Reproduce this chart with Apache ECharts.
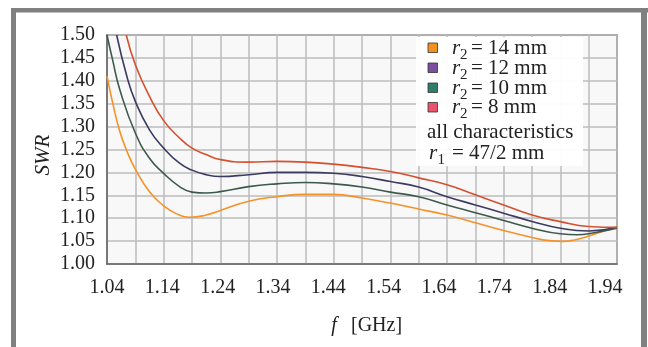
<!DOCTYPE html>
<html>
<head>
<meta charset="utf-8">
<script src="https://cdn.jsdelivr.net/npm/echarts@6/dist/echarts.min.js"></script>
<style>html,body{margin:0;padding:0;background:#fff;}#c{width:648px;height:347px;}</style>
</head>
<body>
<div id="c"></div>
<script>
// frequency origin of the x axis (GHz)
const F0 = 1.04;
const xTickValues = [0,0.1,0.2,0.3,0.4,0.5,0.6,0.7,0.8,0.9];
const xTickLabels = ['1.04','1.14','1.24','1.34','1.44','1.54','1.64','1.74','1.84','1.94'];
const yTickLabels = ['1.00','1.05','1.10','1.15','1.20','1.25','1.30','1.35','1.40','1.45','1.50'];

// r2 = 14 mm
const f14 = [1.04,1.05,1.0625,1.075,1.09,1.115,1.14,1.162,1.186,1.215,1.24,1.29,1.34,1.39,1.44,1.49,1.54,1.59,1.64,1.69,1.74,1.79,1.82,1.845,1.865,1.89,1.917,1.94];
const swr14 = [1.41,1.352,1.29,1.247,1.207,1.158,1.127,1.110,1.102,1.107,1.117,1.137,1.147,1.152,1.152,1.144,1.133,1.12,1.107,1.09,1.073,1.058,1.051,1.0495,1.0525,1.061,1.072,1.08];
// r2 = 12 mm
const f12 = [1.057,1.075,1.09,1.115,1.14,1.168,1.19,1.215,1.24,1.29,1.34,1.39,1.44,1.49,1.54,1.59,1.64,1.69,1.74,1.79,1.84,1.89,1.94];
const swr12 = [1.50,1.41,1.355,1.293,1.253,1.220,1.205,1.195,1.191,1.195,1.200,1.200,1.198,1.191,1.180,1.168,1.147,1.129,1.111,1.093,1.078,1.072,1.080];
// r2 = 10 mm
const f10 = [1.04,1.05,1.0625,1.09,1.115,1.14,1.168,1.19,1.215,1.24,1.29,1.34,1.39,1.44,1.49,1.54,1.59,1.64,1.69,1.74,1.79,1.84,1.87,1.89,1.94];
const swr10 = [1.50,1.445,1.381,1.286,1.231,1.198,1.169,1.157,1.155,1.158,1.169,1.175,1.178,1.175,1.168,1.157,1.147,1.129,1.112,1.095,1.078,1.066,1.064,1.066,1.078];
// r2 = 8 mm
const f8 = [1.074,1.09,1.115,1.14,1.168,1.19,1.215,1.24,1.29,1.34,1.39,1.44,1.49,1.54,1.59,1.64,1.69,1.74,1.79,1.84,1.89,1.94];
const swr8 = [1.50,1.435,1.366,1.313,1.275,1.253,1.239,1.228,1.2225,1.224,1.2225,1.218,1.211,1.202,1.188,1.173,1.151,1.129,1.107,1.0925,1.082,1.080];

const seriesDefs = [
  {name:'r2 = 14 mm', f:f14, v:swr14, color:'#f5922a'},
  {name:'r2 = 12 mm', f:f12, v:swr12, color:'#3b3a62'},
  {name:'r2 = 10 mm', f:f10, v:swr10, color:'#3c5a4c'},
  {name:'r2 = 8 mm',  f:f8,  v:swr8,  color:'#d5502f'}
];

const serif = '"Liberation Serif","DejaVu Serif",serif';
const chart = echarts.init(document.getElementById('c'), null, {renderer:'canvas'});

const legendRows = [
  {sub:'2', rest:'= 14 mm', key:'#f39020'},
  {sub:'2', rest:'= 12 mm', key:'#7b4f9e'},
  {sub:'2', rest:'= 10 mm', key:'#2e7c6a'},
  {sub:'2', rest:'= 8 mm',  key:'#e9546b'}
];

const graphics = [
  {type:'rect', shape:{x:11,y:8,width:637,height:4.5}, style:{fill:'#808080'}, z:100},
  {type:'rect', shape:{x:11,y:8,width:5,height:339}, style:{fill:'#808080'}, z:100},
  {type:'rect', shape:{x:641,y:8,width:6,height:339}, style:{fill:'#808080'}, z:100},
  {type:'rect', shape:{x:416,y:37,width:167,height:129}, style:{fill:'rgba(255,255,255,0.95)'}, z:50},
  {type:'text', x:43, y:155, rotation:Math.PI/2, style:{text:'SWR', font:'italic 21px '+serif, fill:'#222', align:'center', verticalAlign:'middle'}, z:100},
  {type:'text', x:334, y:326, style:{text:'f', font:'italic 20px '+serif, fill:'#222', align:'center', verticalAlign:'middle'}, z:100},
  {type:'text', x:351, y:326, style:{text:'[GHz]', font:'20px '+serif, fill:'#222', align:'left', verticalAlign:'middle'}, z:100}
];
const rowY = [48, 68, 88, 107.5];
legendRows.forEach((r, i) => {
  const y = rowY[i];
  graphics.push({type:'rect', shape:{x:428,y:y-5,width:9.5,height:9.5}, style:{fill:r.key, stroke:'#333', lineWidth:0.8}, z:60});
  graphics.push({type:'text', x:452, y:y, style:{text:'r', font:'italic 21px '+serif, fill:'#222', verticalAlign:'middle'}, z:60});
  graphics.push({type:'text', x:460, y:y+7, style:{text:r.sub, font:'15px '+serif, fill:'#222', verticalAlign:'middle'}, z:60});
  graphics.push({type:'text', x:471, y:y, style:{text:r.rest, font:'21px '+serif, fill:'#222', verticalAlign:'middle'}, z:60});
});
graphics.push({type:'text', x:427, y:132, style:{text:'all characteristics', font:'21px '+serif, fill:'#222', verticalAlign:'middle'}, z:60});
graphics.push({type:'text', x:429, y:153, style:{text:'r', font:'italic 21px '+serif, fill:'#222', verticalAlign:'middle'}, z:60});
graphics.push({type:'text', x:437.5, y:160, style:{text:'1', font:'15px '+serif, fill:'#222', verticalAlign:'middle'}, z:60});
graphics.push({type:'text', x:452, y:153, style:{text:'= 47/2 mm', font:'21px '+serif, fill:'#222', verticalAlign:'middle'}, z:60});

chart.setOption({
  animation:false,
  backgroundColor:'#fff',
  grid:{left:107, right:31, top:35, bottom:83, show:true, backgroundColor:'#f8f8f8', borderColor:'#666', borderWidth:1.5},
  xAxis:[{
    type:'value', min:0, max:0.9, interval:0.05,
    axisLine:{show:true, lineStyle:{color:'#666', width:1.5}},
    axisTick:{show:false},
    splitLine:{show:true, lineStyle:{color:'#bcbcbc', width:1.5}},
    axisLabel:{show:false}
  },{
    // label axis: the printed tick labels sit slightly tighter than the grid lines
    type:'value', min:0, max:0.9217, position:'bottom',
    axisLine:{show:false}, axisTick:{show:false}, splitLine:{show:false},
    axisLabel:{
      margin:14, color:'#222', fontFamily:serif, fontSize:20,
      customValues: xTickValues,
      formatter:(v) => { const k = Math.round(v/0.1); return xTickLabels[k] || ''; }
    }
  }],
  yAxis:{
    type:'value', min:1.0, max:1.5, interval:0.05,
    axisLine:{show:true, lineStyle:{color:'#666', width:1.5}},
    axisTick:{show:false},
    splitLine:{show:true, lineStyle:{color:'#bcbcbc', width:1.5}},
    axisLabel:{
      margin:12, color:'#222', fontFamily:serif, fontSize:20,
      formatter:(v) => yTickLabels[Math.round((v-1)/0.05)] || ''
    }
  },
  series: seriesDefs.map(s => ({
    name:s.name, type:'line', smooth:0.5, symbol:'none', clip:true, xAxisIndex:0,
    lineStyle:{color:s.color, width:1.6},
    z:10,
    data: s.f.map((f, i) => [f - F0, s.v[i]])
  })),
  graphic: graphics
});
</script>
</body>
</html>
